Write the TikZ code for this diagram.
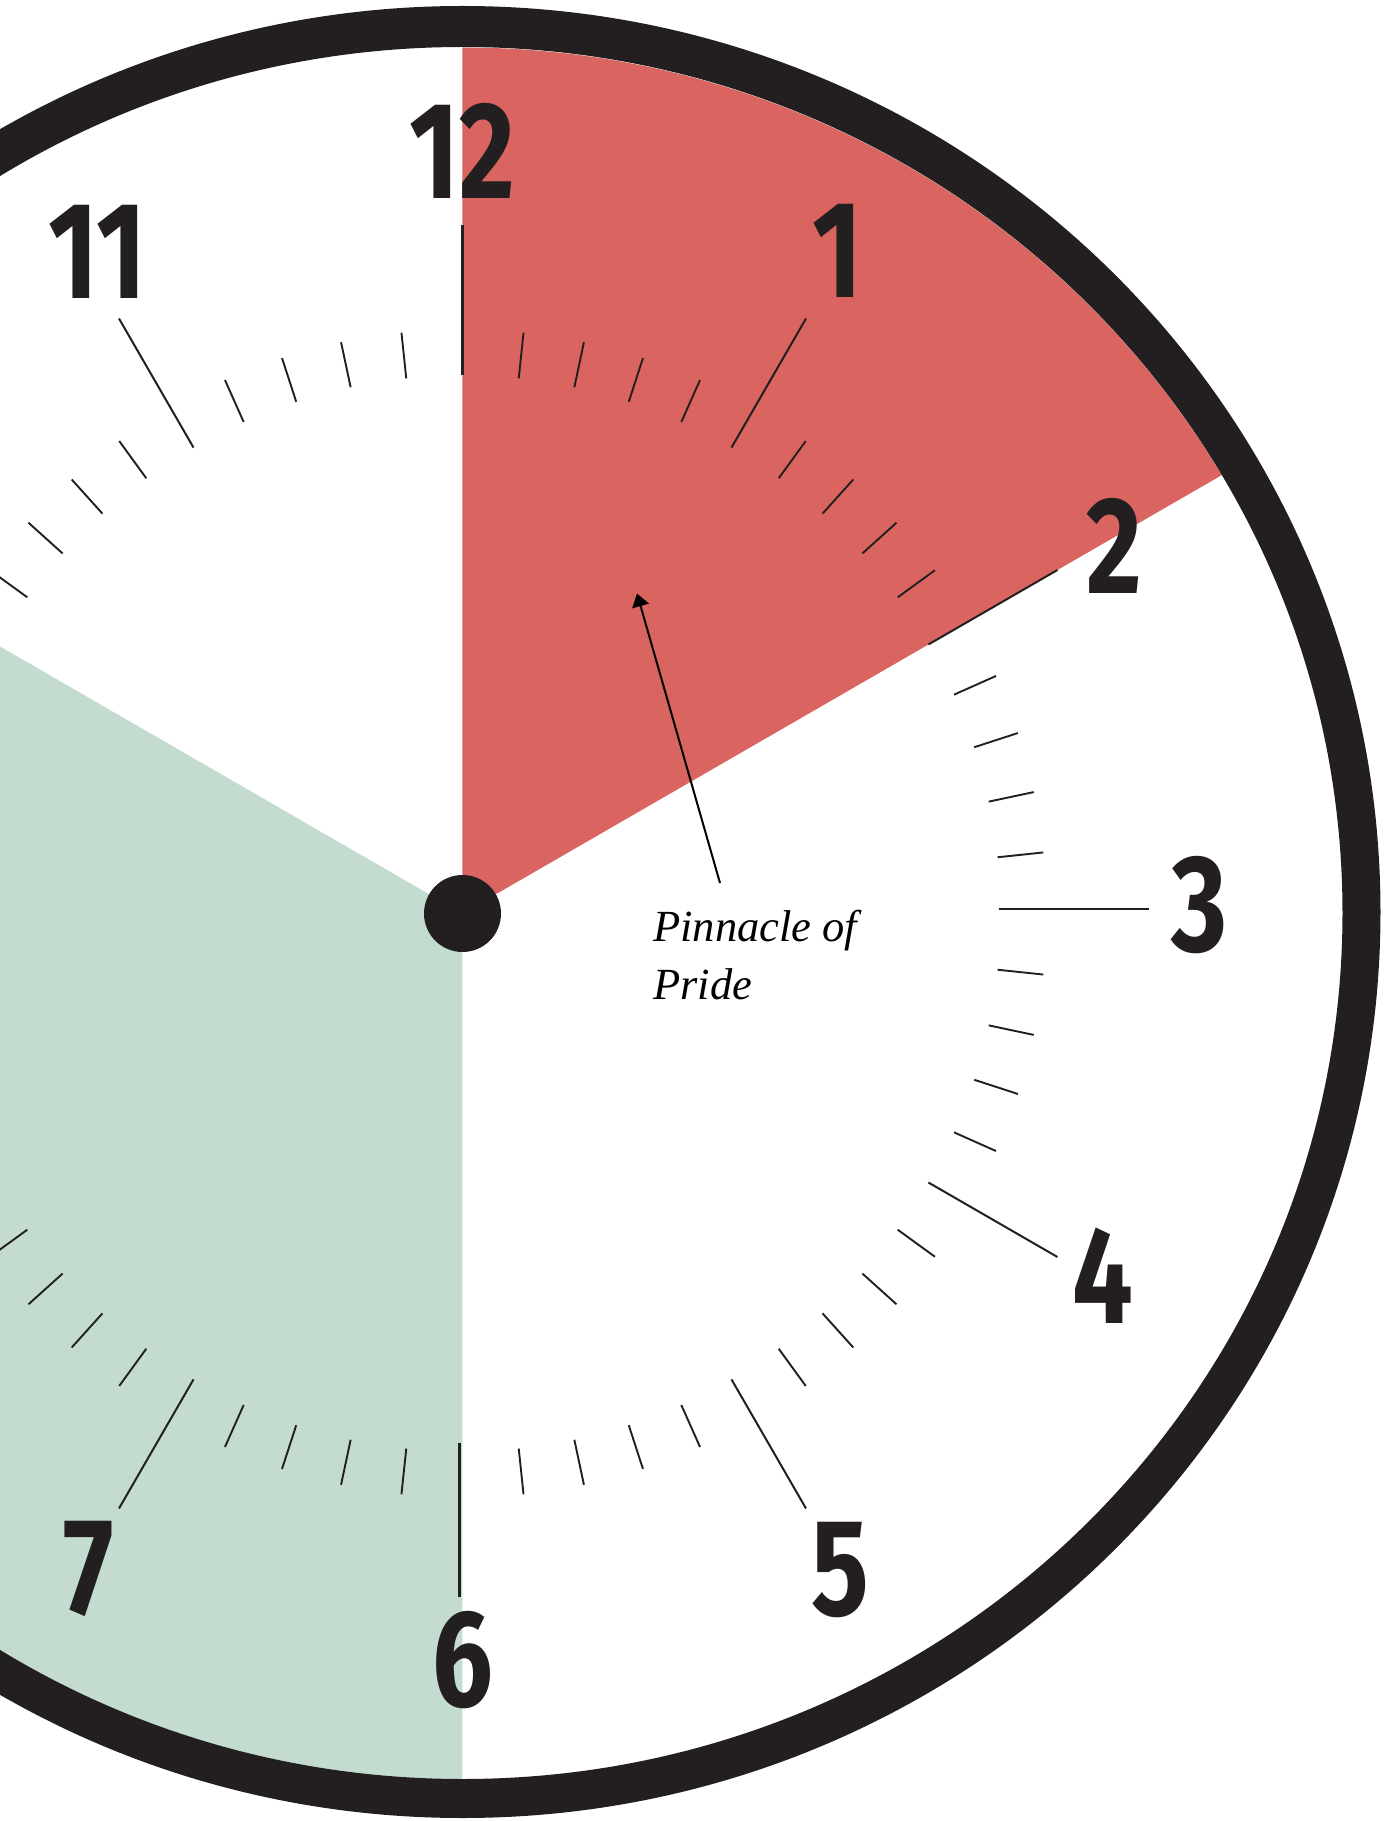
\documentclass[tikz,border=0pt]{standalone}
\usepackage{fontspec}
\setmainfont{Liberation Serif}
\newfontfamily\numfont{Fira Sans}
\usetikzlibrary{arrows.meta}
\definecolor{clockblack}{HTML}{231F20}
\definecolor{prideRed}{HTML}{DA6560}
\definecolor{calmGreen}{HTML}{C4DCD0}
\begin{document}
\begin{tikzpicture}[x=1pt,y=1pt,
  numeral/.style={font=\numfont\bfseries\fontsize{138}{140}\selectfont, text=clockblack, inner sep=0pt, xscale=0.78},
  minutetick/.style={draw=clockblack, line width=1.9pt},
  hourtick/.style={draw=clockblack, line width=2pt},
  maintick/.style={draw=clockblack, line width=2.8pt},
  label/.style={font=\itshape\fontsize{44.5}{57.5}\selectfont, align=left, inner sep=0pt, text=black},
  pointer/.style={draw=black, line width=2pt, -{Triangle[length=13pt,width=17pt]}}
]
\useasboundingbox (-462.5,-907.5) rectangle (927.5,913.5);
\fill[white] (-462.5,-907.5) rectangle (927.5,913.5);
\clip (-462.5,-907.5) rectangle (927.5,913.5);

% sectors
\begin{scope}
  \clip (0,0) ellipse [x radius=880, y radius=866];
  \fill[prideRed] (0,0) -- (90:1400) -- (60:1400) -- (30:1400) -- cycle;
  \fill[calmGreen] (0,0) -- (150:1400) -- (180:1400) -- (210:1400) -- (240:1400) -- (270:1400) -- cycle;
\end{scope}

% rim
\fill[clockblack, even odd rule] (0,1.5) ellipse [x radius=918, y radius=906]
  (0,0.5) ellipse [x radius=880, y radius=866];

% ticks
\foreach \m in {0,...,59}{
  \pgfmathtruncatemacro\rest{mod(\m,5)}
  \pgfmathsetmacro\ang{90-6*\m}
  \ifnum\rest=0
    \ifnum\m=0
      \draw[maintick] (\ang:538) -- (\ang:688);
    \else\ifnum\m=30
      \draw[maintick] (-3,-529) -- (-3,-683);
    \else\ifnum\m=15
      \draw[hourtick] (536,5) -- (686,5);
    \else
      \draw[hourtick] (\ang:538) -- (\ang:687);
    \fi\fi\fi
  \else
    \draw[minutetick] (\ang:538) -- (\ang:584);
  \fi
}

% hub
\fill[clockblack] (0,0) circle [radius=38.5];

% numerals
\node[numeral] (n12) at (0,763) {12};
\node[numeral] (n1) at (374.5,662.5) {1};
\node[numeral] (n2) at (652.2,367.7) {2};
\node[numeral] (n3) at (737,8) {3};
\node[numeral] (n4) at (640,-362) {4};
\node[numeral] (n5) at (378.2,-656.5) {5};
\node[numeral] (n6) at (0.5,-747) {6};
\node[numeral] (n7) at (-373.7,-655.2) {7};
\node[numeral] (n11) at (-365.5,662.1) {11};

% label and pointer
\node[label, anchor=north west] (pride) at (190.5,3.5) {Pinnacle of\\Pride};
\coordinate (pridetail) at (257.5,30.5);
\coordinate (pridetip) at (174.5,320);
\draw[pointer] (pridetail) -- (pridetip);
\end{tikzpicture}
\end{document}
